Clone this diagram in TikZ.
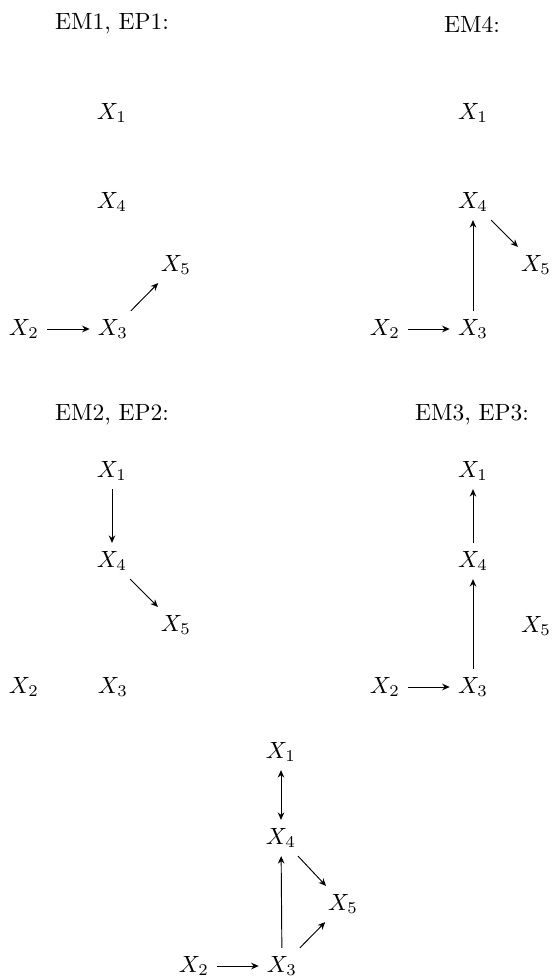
\documentclass[tikz,border=0pt]{standalone}
\usetikzlibrary{arrows.meta}
\begin{document}
\begin{tikzpicture}[x=0.4255pt,y=-0.4255pt,
  var/.style={inner sep=3.33pt},
  ttl/.style={inner sep=0pt},
  edge/.style={-{Stealth[length=3.2pt,width=2.8pt]},line width=0.4pt},
  biedge/.style={{Stealth[length=3.2pt,width=2.8pt]}-{Stealth[length=3.2pt,width=2.8pt]},line width=0.4pt}]
\useasboundingbox (0,0) rectangle (551,976);
% Panel 1
\node[ttl] (t1) at (112,24) {EM1, EP1:};
\node[var] (a1) at (112,113) {$X_1$};
\node[var] (a4) at (112,202) {$X_4$};
\node[var] (a5) at (176,265) {$X_5$};
\node[var] (a2) at (24,329) {$X_2$};
\node[var] (a3) at (113,329) {$X_3$};
\draw[edge] (a2) -- (a3);
\draw[edge] (a3) -- (a5);
% Panel 2
\node[ttl] (t2) at (472,24) {EM4:};
\node[var] (b1) at (473,113) {$X_1$};
\node[var] (b4) at (473,202) {$X_4$};
\node[var] (b5) at (536,265) {$X_5$};
\node[var] (b2) at (385,329) {$X_2$};
\node[var] (b3) at (473,329) {$X_3$};
\draw[edge] (b2) -- (b3);
\draw[edge] (b3) -- (b4);
\draw[edge] (b4) -- (b5);
% Panel 3
\node[ttl] (t3) at (112,415) {EM2, EP2:};
\node[var] (c1) at (112,471) {$X_1$};
\node[var] (c4) at (112,561) {$X_4$};
\node[var] (c5) at (176,625) {$X_5$};
\node[var] (c2) at (24,687) {$X_2$};
\node[var] (c3) at (113,687) {$X_3$};
\draw[edge] (c1) -- (c4);
\draw[edge] (c4) -- (c5);
% Panel 4
\node[ttl] (t4) at (472,415) {EM3, EP3:};
\node[var] (d1) at (473,471) {$X_1$};
\node[var] (d4) at (473,561) {$X_4$};
\node[var] (d5) at (536,626) {$X_5$};
\node[var] (d2) at (385,687) {$X_2$};
\node[var] (d3) at (473,687) {$X_3$};
\draw[edge] (d2) -- (d3);
\draw[edge] (d3) -- (d4);
\draw[edge] (d4) -- (d1);
% Panel 5
\node[var] (e1) at (281,752) {$X_1$};
\node[var] (e4) at (281,838) {$X_4$};
\node[var] (e5) at (343,904) {$X_5$};
\node[var] (e2) at (194,966) {$X_2$};
\node[var] (e3) at (282,966) {$X_3$};
\draw[biedge] (e1) -- (e4);
\draw[edge] (e2) -- (e3);
\draw[edge] (e3) -- (e4);
\draw[edge] (e4) -- (e5);
\draw[edge] (e3) -- (e5);
\end{tikzpicture}
\end{document}
